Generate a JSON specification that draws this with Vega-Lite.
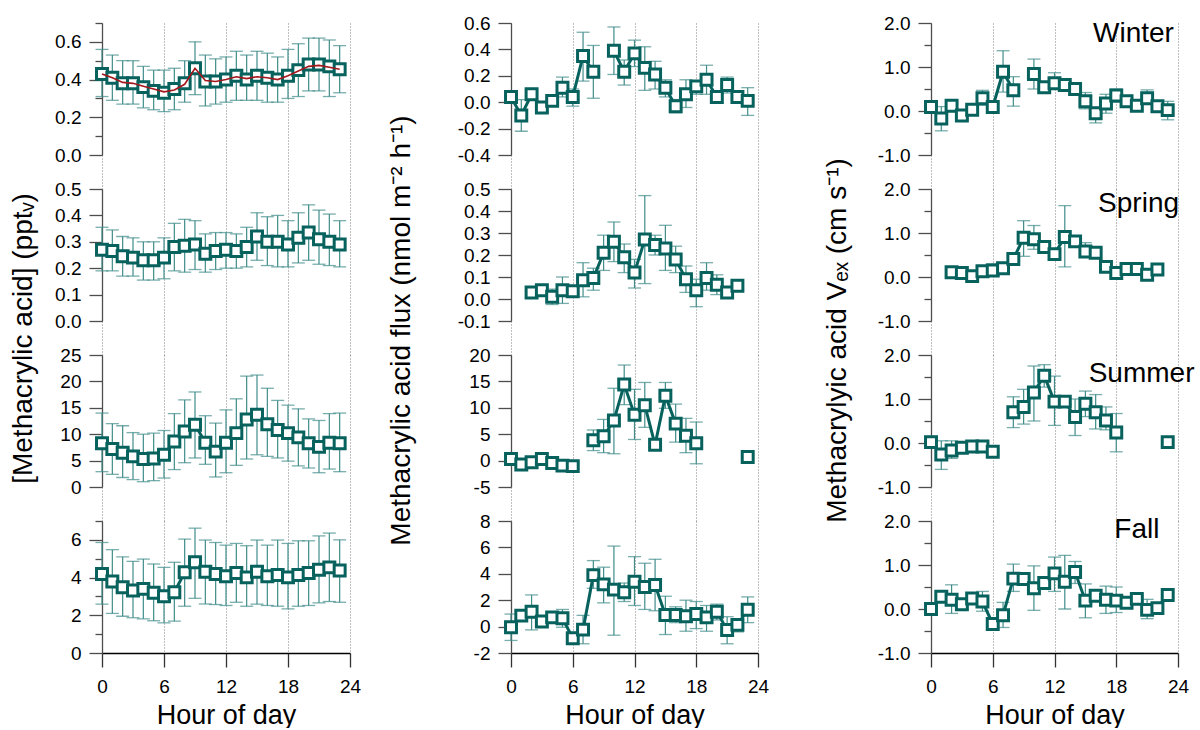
{
  "$schema": "https://vega.github.io/schema/vega-lite/v6.json",
  "padding": {"left": 9, "top": 14, "right": 4, "bottom": 0},
  "config": {
    "font": "Liberation Sans",
    "view": {"stroke": null},
    "axis": {"labelFontSize": 19, "titleFontSize": 27, "titleFontWeight": "normal", "labelColor": "#000", "titleColor": "#000"},
    "axisY": {"grid": false, "domainColor": "#4d4d4d", "domainWidth": 1.3, "tickColor": "#4d4d4d", "tickWidth": 1.3, "tickSize": 13, "labelPadding": 8, "titleFontSize": 28},
    "axisX": {"grid": true, "gridDash": [1, 2], "gridColor": "#808080", "gridWidth": 1, "domain": false, "labels": false, "labelFlush": false, "tickSize": 34, "tickDash": [1, 2], "tickColor": "#808080", "tickWidth": 1}
  },
  "datasets": {
    "one": [{"z": 0}],
    "L1": [
      {"h": 0, "m": 0.43, "lo": 0.31, "hi": 0.56, "fit": 0.43},
      {"h": 1, "m": 0.41, "lo": 0.29, "hi": 0.53, "fit": 0.41},
      {"h": 2, "m": 0.38, "lo": 0.27, "hi": 0.5, "fit": 0.385},
      {"h": 3, "m": 0.38, "lo": 0.27, "hi": 0.5, "fit": 0.38},
      {"h": 4, "m": 0.36, "lo": 0.25, "hi": 0.47, "fit": 0.365},
      {"h": 5, "m": 0.34, "lo": 0.24, "hi": 0.45, "fit": 0.35},
      {"h": 6, "m": 0.33, "lo": 0.23, "hi": 0.45, "fit": 0.335},
      {"h": 7, "m": 0.35, "lo": 0.24, "hi": 0.46, "fit": 0.345},
      {"h": 8, "m": 0.38, "lo": 0.28, "hi": 0.5, "fit": 0.375},
      {"h": 9, "m": 0.46, "lo": 0.32, "hi": 0.6, "fit": 0.46},
      {"h": 10, "m": 0.39, "lo": 0.26, "hi": 0.53, "fit": 0.395},
      {"h": 11, "m": 0.39, "lo": 0.27, "hi": 0.51, "fit": 0.39},
      {"h": 12, "m": 0.4, "lo": 0.28, "hi": 0.52, "fit": 0.4},
      {"h": 13, "m": 0.42, "lo": 0.29, "hi": 0.55, "fit": 0.415},
      {"h": 14, "m": 0.4, "lo": 0.29, "hi": 0.53, "fit": 0.405},
      {"h": 15, "m": 0.42, "lo": 0.29, "hi": 0.55, "fit": 0.415},
      {"h": 16, "m": 0.41, "lo": 0.28, "hi": 0.54, "fit": 0.41},
      {"h": 17, "m": 0.4, "lo": 0.28, "hi": 0.52, "fit": 0.4},
      {"h": 18, "m": 0.42, "lo": 0.3, "hi": 0.56, "fit": 0.42},
      {"h": 19, "m": 0.45, "lo": 0.31, "hi": 0.59, "fit": 0.445},
      {"h": 20, "m": 0.48, "lo": 0.34, "hi": 0.62, "fit": 0.47},
      {"h": 21, "m": 0.48, "lo": 0.34, "hi": 0.62, "fit": 0.475},
      {"h": 22, "m": 0.47, "lo": 0.31, "hi": 0.61, "fit": 0.465},
      {"h": 23, "m": 0.455, "lo": 0.33, "hi": 0.58, "fit": 0.455}
    ],
    "L2": [
      {"h": 0, "m": 0.27, "lo": 0.19, "hi": 0.355},
      {"h": 1, "m": 0.265, "lo": 0.19, "hi": 0.345},
      {"h": 2, "m": 0.245, "lo": 0.17, "hi": 0.32},
      {"h": 3, "m": 0.24, "lo": 0.17, "hi": 0.315},
      {"h": 4, "m": 0.23, "lo": 0.155, "hi": 0.3},
      {"h": 5, "m": 0.23, "lo": 0.155, "hi": 0.3},
      {"h": 6, "m": 0.24, "lo": 0.16, "hi": 0.315},
      {"h": 7, "m": 0.28, "lo": 0.19, "hi": 0.37},
      {"h": 8, "m": 0.285, "lo": 0.185, "hi": 0.385},
      {"h": 9, "m": 0.29, "lo": 0.195, "hi": 0.38},
      {"h": 10, "m": 0.255, "lo": 0.185, "hi": 0.33},
      {"h": 11, "m": 0.265, "lo": 0.195, "hi": 0.335},
      {"h": 12, "m": 0.27, "lo": 0.2, "hi": 0.335},
      {"h": 13, "m": 0.265, "lo": 0.2, "hi": 0.33},
      {"h": 14, "m": 0.28, "lo": 0.205, "hi": 0.355},
      {"h": 15, "m": 0.32, "lo": 0.23, "hi": 0.41},
      {"h": 16, "m": 0.3, "lo": 0.21, "hi": 0.395},
      {"h": 17, "m": 0.3, "lo": 0.205, "hi": 0.4},
      {"h": 18, "m": 0.29, "lo": 0.205, "hi": 0.38},
      {"h": 19, "m": 0.315, "lo": 0.22, "hi": 0.41},
      {"h": 20, "m": 0.335, "lo": 0.23, "hi": 0.44},
      {"h": 21, "m": 0.31, "lo": 0.215, "hi": 0.42},
      {"h": 22, "m": 0.3, "lo": 0.21, "hi": 0.405},
      {"h": 23, "m": 0.29, "lo": 0.205, "hi": 0.38}
    ],
    "L3": [
      {"h": 0, "m": 8.3, "lo": 2.9, "hi": 14.0},
      {"h": 1, "m": 7.2, "lo": 2.4, "hi": 12.0},
      {"h": 2, "m": 6.5, "lo": 1.8, "hi": 11.6},
      {"h": 3, "m": 5.8, "lo": 1.4, "hi": 10.3},
      {"h": 4, "m": 5.3, "lo": 1.0, "hi": 10.0},
      {"h": 5, "m": 5.4, "lo": 1.2, "hi": 10.2},
      {"h": 6, "m": 6.1, "lo": 1.7, "hi": 10.7},
      {"h": 7, "m": 8.6, "lo": 3.3, "hi": 13.9},
      {"h": 8, "m": 10.5, "lo": 4.6, "hi": 16.5},
      {"h": 9, "m": 11.8, "lo": 5.5, "hi": 18.0},
      {"h": 10, "m": 8.4, "lo": 4.3, "hi": 13.5},
      {"h": 11, "m": 6.7, "lo": 1.9, "hi": 12.1},
      {"h": 12, "m": 8.4, "lo": 2.7, "hi": 14.6},
      {"h": 13, "m": 10.2, "lo": 4.1, "hi": 16.7},
      {"h": 14, "m": 12.8, "lo": 5.3, "hi": 21.0},
      {"h": 15, "m": 13.7, "lo": 6.1, "hi": 21.2},
      {"h": 16, "m": 11.9, "lo": 5.8, "hi": 18.7},
      {"h": 17, "m": 10.8, "lo": 5.5, "hi": 16.4},
      {"h": 18, "m": 10.2, "lo": 4.9, "hi": 15.5},
      {"h": 19, "m": 9.4, "lo": 4.0, "hi": 14.8},
      {"h": 20, "m": 8.3, "lo": 3.6, "hi": 12.9},
      {"h": 21, "m": 7.6, "lo": 2.7, "hi": 12.6},
      {"h": 22, "m": 8.4, "lo": 3.4, "hi": 13.9},
      {"h": 23, "m": 8.3, "lo": 2.9, "hi": 14.0}
    ],
    "L4": [
      {"h": 0, "m": 4.19, "lo": 2.59, "hi": 5.86},
      {"h": 1, "m": 3.79, "lo": 2.1, "hi": 5.48},
      {"h": 2, "m": 3.49, "lo": 1.95, "hi": 5.1},
      {"h": 3, "m": 3.31, "lo": 1.87, "hi": 4.86},
      {"h": 4, "m": 3.4, "lo": 1.81, "hi": 4.98},
      {"h": 5, "m": 3.19, "lo": 1.71, "hi": 4.72},
      {"h": 6, "m": 3.01, "lo": 1.6, "hi": 4.54},
      {"h": 7, "m": 3.22, "lo": 1.69, "hi": 4.81},
      {"h": 8, "m": 4.28, "lo": 2.48, "hi": 6.04},
      {"h": 9, "m": 4.81, "lo": 2.9, "hi": 6.62},
      {"h": 10, "m": 4.31, "lo": 2.6, "hi": 5.99},
      {"h": 11, "m": 4.19, "lo": 2.57, "hi": 5.86},
      {"h": 12, "m": 4.07, "lo": 2.52, "hi": 5.72},
      {"h": 13, "m": 4.24, "lo": 2.69, "hi": 5.81},
      {"h": 14, "m": 4.01, "lo": 2.48, "hi": 5.69},
      {"h": 15, "m": 4.31, "lo": 2.59, "hi": 5.99},
      {"h": 16, "m": 4.07, "lo": 2.52, "hi": 5.72},
      {"h": 17, "m": 4.14, "lo": 2.48, "hi": 5.99},
      {"h": 18, "m": 4.01, "lo": 2.34, "hi": 5.81},
      {"h": 19, "m": 4.14, "lo": 2.48, "hi": 5.95},
      {"h": 20, "m": 4.24, "lo": 2.52, "hi": 5.95},
      {"h": 21, "m": 4.42, "lo": 2.66, "hi": 6.21},
      {"h": 22, "m": 4.54, "lo": 2.73, "hi": 6.36},
      {"h": 23, "m": 4.37, "lo": 2.69, "hi": 6.0}
    ],
    "M1": [
      {"h": 0, "m": 0.04, "lo": 0.01, "hi": 0.07},
      {"h": 1, "m": -0.1, "lo": -0.22, "hi": 0.02},
      {"h": 2, "m": 0.06, "lo": 0.03, "hi": 0.09},
      {"h": 3, "m": -0.04, "lo": -0.07, "hi": -0.01},
      {"h": 4, "m": 0.01, "lo": -0.02, "hi": 0.04},
      {"h": 5, "m": 0.11, "lo": 0.04, "hi": 0.19},
      {"h": 6, "m": 0.04, "lo": -0.03, "hi": 0.1},
      {"h": 7, "m": 0.35, "lo": 0.16, "hi": 0.53},
      {"h": 8, "m": 0.23, "lo": 0.03, "hi": 0.43},
      {"h": 9, "m": null, "lo": null, "hi": null},
      {"h": 10, "m": 0.39, "lo": 0.21, "hi": 0.57},
      {"h": 11, "m": 0.23, "lo": 0.13, "hi": 0.32},
      {"h": 12, "m": 0.37, "lo": 0.27, "hi": 0.47},
      {"h": 13, "m": 0.26, "lo": 0.09, "hi": 0.42},
      {"h": 14, "m": 0.21, "lo": 0.1, "hi": 0.31},
      {"h": 15, "m": 0.11, "lo": 0.04, "hi": 0.17},
      {"h": 16, "m": -0.03, "lo": -0.08, "hi": 0.02},
      {"h": 17, "m": 0.06, "lo": -0.04, "hi": 0.17},
      {"h": 18, "m": 0.12, "lo": 0.06, "hi": 0.16},
      {"h": 19, "m": 0.17, "lo": 0.06, "hi": 0.28},
      {"h": 20, "m": 0.04, "lo": 0.0, "hi": 0.08},
      {"h": 21, "m": 0.13, "lo": 0.07, "hi": 0.19},
      {"h": 22, "m": 0.04, "lo": 0.01, "hi": 0.07},
      {"h": 23, "m": 0.01, "lo": -0.1, "hi": 0.11}
    ],
    "M2": [
      {"h": 2, "m": 0.03, "lo": 0.01, "hi": 0.05},
      {"h": 3, "m": 0.04, "lo": 0.02, "hi": 0.06},
      {"h": 4, "m": 0.01, "lo": -0.025, "hi": 0.045},
      {"h": 5, "m": 0.04, "lo": -0.02, "hi": 0.1},
      {"h": 6, "m": 0.035, "lo": 0.015, "hi": 0.055},
      {"h": 7, "m": 0.085, "lo": 0.01, "hi": 0.165},
      {"h": 8, "m": 0.095, "lo": 0.04, "hi": 0.14},
      {"h": 9, "m": 0.21, "lo": 0.13, "hi": 0.29},
      {"h": 10, "m": 0.26, "lo": 0.17, "hi": 0.35},
      {"h": 11, "m": 0.19, "lo": 0.12, "hi": 0.25},
      {"h": 12, "m": 0.12, "lo": 0.05, "hi": 0.18},
      {"h": 13, "m": 0.27, "lo": 0.07, "hi": 0.47},
      {"h": 14, "m": 0.245, "lo": 0.2, "hi": 0.29},
      {"h": 15, "m": 0.23, "lo": 0.13, "hi": 0.335},
      {"h": 16, "m": 0.18, "lo": 0.12, "hi": 0.24},
      {"h": 17, "m": 0.09, "lo": 0.03, "hi": 0.15},
      {"h": 18, "m": 0.04, "lo": -0.035, "hi": 0.09},
      {"h": 19, "m": 0.095, "lo": 0.04, "hi": 0.165},
      {"h": 20, "m": 0.065, "lo": 0.02, "hi": 0.11},
      {"h": 21, "m": 0.03, "lo": 0.01, "hi": 0.05},
      {"h": 22, "m": 0.06, "lo": 0.04, "hi": 0.08}
    ],
    "M3": [
      {"h": 0, "m": 0.3, "lo": -0.2, "hi": 0.8},
      {"h": 1, "m": -0.75, "lo": -1.3, "hi": -0.2},
      {"h": 2, "m": -0.3, "lo": -0.8, "hi": 0.2},
      {"h": 3, "m": 0.3, "lo": -0.2, "hi": 0.8},
      {"h": 4, "m": -0.45, "lo": -0.9, "hi": 0.0},
      {"h": 5, "m": -0.95, "lo": -1.4, "hi": -0.5},
      {"h": 6, "m": -1.05, "lo": -1.5, "hi": -0.6},
      {"h": 7, "m": null, "lo": null, "hi": null},
      {"h": 8, "m": 3.85, "lo": 1.9, "hi": 5.8},
      {"h": 9, "m": 4.6, "lo": 1.5, "hi": 7.8},
      {"h": 10, "m": 7.6, "lo": 1.3, "hi": 13.7},
      {"h": 11, "m": 14.4, "lo": 10.6, "hi": 18.1},
      {"h": 12, "m": 8.7, "lo": 4.0, "hi": 13.5},
      {"h": 13, "m": 10.5, "lo": 6.3, "hi": 14.8},
      {"h": 14, "m": 3.0, "lo": 2.5, "hi": 3.5},
      {"h": 15, "m": 12.3, "lo": 9.9, "hi": 14.8},
      {"h": 16, "m": 7.0, "lo": 3.5, "hi": 10.7},
      {"h": 17, "m": 4.7, "lo": 1.5, "hi": 8.0},
      {"h": 18, "m": 3.3, "lo": -0.6, "hi": 7.3},
      {"h": 19, "m": null, "lo": null, "hi": null},
      {"h": 20, "m": null, "lo": null, "hi": null},
      {"h": 21, "m": null, "lo": null, "hi": null},
      {"h": 22, "m": null, "lo": null, "hi": null},
      {"h": 23, "m": 0.7, "lo": 0.3, "hi": 1.1}
    ],
    "M4": [
      {"h": 0, "m": -0.05, "lo": -1.05, "hi": 0.95},
      {"h": 1, "m": 0.83, "lo": 0.5, "hi": 1.15},
      {"h": 2, "m": 1.13, "lo": -0.25, "hi": 2.4},
      {"h": 3, "m": 0.38, "lo": 0.05, "hi": 0.7},
      {"h": 4, "m": 0.7, "lo": 0.3, "hi": 1.1},
      {"h": 5, "m": 0.63, "lo": -0.05, "hi": 1.3},
      {"h": 6, "m": -0.88, "lo": -1.3, "hi": -0.45},
      {"h": 7, "m": -0.23, "lo": -1.3, "hi": 0.85},
      {"h": 8, "m": 3.9, "lo": 2.9, "hi": 5.0},
      {"h": 9, "m": 3.2, "lo": 1.8, "hi": 4.5},
      {"h": 10, "m": 2.8, "lo": -0.65, "hi": 6.1},
      {"h": 11, "m": 2.6, "lo": 1.9, "hi": 3.3},
      {"h": 12, "m": 3.4, "lo": 1.6, "hi": 5.3},
      {"h": 13, "m": 3.0, "lo": 1.3, "hi": 4.8},
      {"h": 14, "m": 3.15, "lo": 1.2, "hi": 5.1},
      {"h": 15, "m": 0.88, "lo": -0.6, "hi": 2.3},
      {"h": 16, "m": 0.88, "lo": 0.3, "hi": 1.5},
      {"h": 17, "m": 0.78, "lo": -0.35, "hi": 2.0},
      {"h": 18, "m": 0.95, "lo": -0.15, "hi": 1.9},
      {"h": 19, "m": 0.7, "lo": -0.35, "hi": 1.6},
      {"h": 20, "m": 1.13, "lo": 0.5, "hi": 1.7},
      {"h": 21, "m": -0.25, "lo": -1.3, "hi": 0.75},
      {"h": 22, "m": 0.13, "lo": -0.4, "hi": 0.6},
      {"h": 23, "m": 1.28, "lo": 0.3, "hi": 2.25}
    ],
    "R1": [
      {"h": 0, "m": 0.09, "lo": 0.0, "hi": 0.17},
      {"h": 1, "m": -0.17, "lo": -0.45, "hi": 0.1},
      {"h": 2, "m": 0.12, "lo": 0.04, "hi": 0.2},
      {"h": 3, "m": -0.1, "lo": -0.18, "hi": -0.02},
      {"h": 4, "m": 0.03, "lo": -0.05, "hi": 0.11},
      {"h": 5, "m": 0.29, "lo": 0.13, "hi": 0.47},
      {"h": 6, "m": 0.09, "lo": 0.0, "hi": 0.17},
      {"h": 7, "m": 0.89, "lo": 0.43, "hi": 1.37},
      {"h": 8, "m": 0.47, "lo": 0.11, "hi": 0.78},
      {"h": 9, "m": null, "lo": null, "hi": null},
      {"h": 10, "m": 0.84, "lo": 0.5, "hi": 1.18},
      {"h": 11, "m": 0.54, "lo": 0.44, "hi": 0.64},
      {"h": 12, "m": 0.63, "lo": 0.5, "hi": 0.87},
      {"h": 13, "m": 0.59, "lo": 0.5, "hi": 0.68},
      {"h": 14, "m": 0.5, "lo": 0.4, "hi": 0.6},
      {"h": 15, "m": 0.22, "lo": 0.05, "hi": 0.42},
      {"h": 16, "m": -0.05, "lo": -0.27, "hi": 0.08},
      {"h": 17, "m": 0.17, "lo": -0.05, "hi": 0.38},
      {"h": 18, "m": 0.35, "lo": 0.2, "hi": 0.5},
      {"h": 19, "m": 0.22, "lo": 0.14, "hi": 0.3},
      {"h": 20, "m": 0.12, "lo": 0.04, "hi": 0.2},
      {"h": 21, "m": 0.29, "lo": 0.15, "hi": 0.48},
      {"h": 22, "m": 0.11, "lo": 0.03, "hi": 0.19},
      {"h": 23, "m": 0.02, "lo": -0.2, "hi": 0.22}
    ],
    "R2": [
      {"h": 2, "m": 0.11, "lo": 0.06, "hi": 0.16},
      {"h": 3, "m": 0.09, "lo": 0.04, "hi": 0.14},
      {"h": 4, "m": 0.02, "lo": -0.03, "hi": 0.07},
      {"h": 5, "m": 0.13, "lo": 0.08, "hi": 0.18},
      {"h": 6, "m": 0.15, "lo": 0.05, "hi": 0.3},
      {"h": 7, "m": 0.2, "lo": 0.1, "hi": 0.3},
      {"h": 8, "m": 0.41, "lo": 0.3, "hi": 0.5},
      {"h": 9, "m": 0.89, "lo": 0.47, "hi": 1.28},
      {"h": 10, "m": 0.86, "lo": 0.63, "hi": 1.17},
      {"h": 11, "m": 0.68, "lo": 0.58, "hi": 0.78},
      {"h": 12, "m": 0.52, "lo": 0.42, "hi": 0.62},
      {"h": 13, "m": 0.91, "lo": 0.23, "hi": 1.62},
      {"h": 14, "m": 0.81, "lo": 0.71, "hi": 0.91},
      {"h": 15, "m": 0.58, "lo": 0.45, "hi": 0.78},
      {"h": 16, "m": 0.55, "lo": 0.45, "hi": 0.65},
      {"h": 17, "m": 0.23, "lo": 0.15, "hi": 0.31},
      {"h": 18, "m": 0.09, "lo": 0.02, "hi": 0.16},
      {"h": 19, "m": 0.18, "lo": 0.1, "hi": 0.26},
      {"h": 20, "m": 0.18, "lo": 0.1, "hi": 0.26},
      {"h": 21, "m": 0.05, "lo": 0.0, "hi": 0.1},
      {"h": 22, "m": 0.17, "lo": 0.1, "hi": 0.24}
    ],
    "R3": [
      {"h": 0, "m": 0.02, "lo": -0.1, "hi": 0.15},
      {"h": 1, "m": -0.26, "lo": -0.6, "hi": 0.05},
      {"h": 2, "m": -0.17, "lo": -0.35, "hi": 0.05},
      {"h": 3, "m": -0.11, "lo": -0.22, "hi": 0.0},
      {"h": 4, "m": -0.08, "lo": -0.18, "hi": 0.05},
      {"h": 5, "m": -0.08, "lo": -0.18, "hi": 0.05},
      {"h": 6, "m": -0.2, "lo": -0.28, "hi": -0.12},
      {"h": 7, "m": null, "lo": null, "hi": null},
      {"h": 8, "m": 0.7, "lo": 0.35, "hi": 1.05},
      {"h": 9, "m": 0.82, "lo": 0.43, "hi": 1.22},
      {"h": 10, "m": 1.15, "lo": 0.5, "hi": 1.75},
      {"h": 11, "m": 1.53, "lo": 1.27, "hi": 1.78},
      {"h": 12, "m": 0.94, "lo": 0.4, "hi": 1.52},
      {"h": 13, "m": 0.94, "lo": 0.88, "hi": 1.0},
      {"h": 14, "m": 0.59, "lo": 0.17, "hi": 1.0},
      {"h": 15, "m": 0.89, "lo": 0.6, "hi": 1.18},
      {"h": 16, "m": 0.7, "lo": 0.32, "hi": 1.1},
      {"h": 17, "m": 0.51, "lo": 0.3, "hi": 0.82},
      {"h": 18, "m": 0.24, "lo": -0.2, "hi": 0.67},
      {"h": 19, "m": null, "lo": null, "hi": null},
      {"h": 20, "m": null, "lo": null, "hi": null},
      {"h": 21, "m": null, "lo": null, "hi": null},
      {"h": 22, "m": null, "lo": null, "hi": null},
      {"h": 23, "m": 0.02, "lo": -0.03, "hi": 0.07}
    ],
    "R4": [
      {"h": 0, "m": 0.0, "lo": -0.05, "hi": 0.05},
      {"h": 1, "m": 0.28, "lo": 0.21, "hi": 0.35},
      {"h": 2, "m": 0.21, "lo": -0.1, "hi": 0.55},
      {"h": 3, "m": 0.11, "lo": 0.06, "hi": 0.16},
      {"h": 4, "m": 0.24, "lo": 0.12, "hi": 0.35},
      {"h": 5, "m": 0.17, "lo": -0.05, "hi": 0.4},
      {"h": 6, "m": -0.34, "lo": -0.41, "hi": -0.27},
      {"h": 7, "m": -0.14, "lo": -0.42, "hi": 0.15},
      {"h": 8, "m": 0.69, "lo": 0.4, "hi": 1.02},
      {"h": 9, "m": 0.68, "lo": 0.58, "hi": 0.78},
      {"h": 10, "m": 0.47, "lo": -0.03, "hi": 0.98},
      {"h": 11, "m": 0.59, "lo": 0.52, "hi": 0.66},
      {"h": 12, "m": 0.81, "lo": 0.4, "hi": 1.18},
      {"h": 13, "m": 0.62, "lo": 0.0, "hi": 1.22},
      {"h": 14, "m": 0.84, "lo": 0.58, "hi": 1.08},
      {"h": 15, "m": 0.19, "lo": -0.2, "hi": 0.57},
      {"h": 16, "m": 0.3, "lo": 0.23, "hi": 0.37},
      {"h": 17, "m": 0.21, "lo": -0.1, "hi": 0.52},
      {"h": 18, "m": 0.19, "lo": -0.08, "hi": 0.5},
      {"h": 19, "m": 0.14, "lo": 0.09, "hi": 0.19},
      {"h": 20, "m": 0.23, "lo": 0.18, "hi": 0.28},
      {"h": 21, "m": -0.02, "lo": -0.22, "hi": 0.22},
      {"h": 22, "m": 0.02, "lo": -0.03, "hi": 0.07},
      {"h": 23, "m": 0.32, "lo": 0.27, "hi": 0.37}
    ]
  },
  "bounds": "flush",
  "spacing": 409,
  "hconcat": [
    {
      "bounds": "flush",
      "spacing": 34,
      "vconcat": [
        {
          "width": 248, "height": 132, "data": {"name": "L1"},
          "encoding": {
            "x": {"field": "h", "type": "quantitative", "title": null, "scale": {"domain": [0, 24], "nice": false, "zero": false}, "axis": {"values": [0, 6, 12, 18, 24]}},
            "y": {"field": "m", "type": "quantitative", "title": null, "scale": {"domain": [0, 0.7], "nice": false, "zero": false},
                  "axis": {"values": [0, 0.1, 0.2, 0.3, 0.4, 0.5, 0.6, 0.7], "labelExpr": "abs(datum.value*5-round(datum.value*5))<0.001 ? format(datum.value,'.1f') : ''", "tickSize": {"condition": {"test": "abs(datum.value*5-round(datum.value*5))<0.001", "value": 13}, "value": 7}}}
          },
          "layer": [
            {"data": {"name": "one"}, "mark": {"type": "rule", "color": "#2b2b2b", "strokeDash": [1, 2], "strokeWidth": 1}, "encoding": {"x": {"datum": 0}, "x2": {"datum": 24}, "y": {"datum": 0}}},
            {"mark": {"type": "rule", "color": "#3f8c89", "strokeWidth": 1.2}, "encoding": {"y": {"field": "lo", "type": "quantitative"}, "y2": {"field": "hi"}}},
            {"mark": {"type": "tick", "orient": "horizontal", "color": "#3f8c89", "size": 13, "thickness": 1.3}, "encoding": {"y": {"field": "lo", "type": "quantitative"}}},
            {"mark": {"type": "tick", "orient": "horizontal", "color": "#3f8c89", "size": 13, "thickness": 1.3}, "encoding": {"y": {"field": "hi", "type": "quantitative"}}},
            {"mark": {"type": "line", "color": "#07625e", "strokeWidth": 3, "invalid": "break-paths-show-domains"}, "encoding": {}},
            {"mark": {"type": "point", "shape": "square", "filled": true, "color": "white", "stroke": "#07625e", "strokeWidth": 3, "size": 120, "opacity": 1}},
            {"mark": {"type": "line", "color": "#a3161c", "strokeWidth": 1.6}, "encoding": {"y": {"field": "fit", "type": "quantitative"}}}
          ]
        },
        {
          "width": 248, "height": 132, "data": {"name": "L2"},
          "encoding": {
            "x": {"field": "h", "type": "quantitative", "title": null, "scale": {"domain": [0, 24], "nice": false, "zero": false}, "axis": {"values": [0, 6, 12, 18, 24]}},
            "y": {"field": "m", "type": "quantitative", "title": "[Methacrylic acid] (pptᵥ)", "scale": {"domain": [0, 0.5], "nice": false, "zero": false},
                  "axis": {"values": [0, 0.1, 0.2, 0.3, 0.4, 0.5], "format": ".1f", "titleY": 149, "titlePadding": 17}}
          },
          "layer": [
            {"data": {"name": "one"}, "mark": {"type": "rule", "color": "#2b2b2b", "strokeDash": [1, 2], "strokeWidth": 1}, "encoding": {"x": {"datum": 0}, "x2": {"datum": 24}, "y": {"datum": 0}}},
            {"mark": {"type": "rule", "color": "#3f8c89", "strokeWidth": 1.2}, "encoding": {"y": {"field": "lo", "type": "quantitative"}, "y2": {"field": "hi"}}},
            {"mark": {"type": "tick", "orient": "horizontal", "color": "#3f8c89", "size": 13, "thickness": 1.3}, "encoding": {"y": {"field": "lo", "type": "quantitative"}}},
            {"mark": {"type": "tick", "orient": "horizontal", "color": "#3f8c89", "size": 13, "thickness": 1.3}, "encoding": {"y": {"field": "hi", "type": "quantitative"}}},
            {"mark": {"type": "line", "color": "#07625e", "strokeWidth": 3, "invalid": "break-paths-show-domains"}, "encoding": {}},
            {"mark": {"type": "point", "shape": "square", "filled": true, "color": "white", "stroke": "#07625e", "strokeWidth": 3, "size": 120, "opacity": 1}}
          ]
        },
        {
          "width": 248, "height": 132, "data": {"name": "L3"},
          "encoding": {
            "x": {"field": "h", "type": "quantitative", "title": null, "scale": {"domain": [0, 24], "nice": false, "zero": false}, "axis": {"values": [0, 6, 12, 18, 24]}},
            "y": {"field": "m", "type": "quantitative", "title": null, "scale": {"domain": [0, 25], "nice": false, "zero": false},
                  "axis": {"values": [0, 5, 10, 15, 20, 25], "format": "d"}}
          },
          "layer": [
            {"data": {"name": "one"}, "mark": {"type": "rule", "color": "#2b2b2b", "strokeDash": [1, 2], "strokeWidth": 1}, "encoding": {"x": {"datum": 0}, "x2": {"datum": 24}, "y": {"datum": 0}}},
            {"mark": {"type": "rule", "color": "#3f8c89", "strokeWidth": 1.2}, "encoding": {"y": {"field": "lo", "type": "quantitative"}, "y2": {"field": "hi"}}},
            {"mark": {"type": "tick", "orient": "horizontal", "color": "#3f8c89", "size": 13, "thickness": 1.3}, "encoding": {"y": {"field": "lo", "type": "quantitative"}}},
            {"mark": {"type": "tick", "orient": "horizontal", "color": "#3f8c89", "size": 13, "thickness": 1.3}, "encoding": {"y": {"field": "hi", "type": "quantitative"}}},
            {"mark": {"type": "line", "color": "#07625e", "strokeWidth": 3, "invalid": "break-paths-show-domains"}, "encoding": {}},
            {"mark": {"type": "point", "shape": "square", "filled": true, "color": "white", "stroke": "#07625e", "strokeWidth": 3, "size": 120, "opacity": 1}}
          ]
        },
        {
          "width": 248, "height": 132, "data": {"name": "L4"},
          "encoding": {
            "x": {"field": "h", "type": "quantitative", "scale": {"domain": [0, 24], "nice": false, "zero": false},
                  "axis": {"values": [0, 6, 12, 18, 24], "title": "Hour of day", "domain": true, "domainColor": "#000", "domainWidth": 1.3, "labels": true, "labelFlush": false, "labelPadding": 10, "titlePadding": 6, "tickSize": 14, "tickDash": [], "tickColor": "#333", "tickWidth": 1.3}},
            "y": {"field": "m", "type": "quantitative", "title": null, "scale": {"domain": [0, 7], "nice": false, "zero": false},
                  "axis": {"values": [0, 1, 2, 3, 4, 5, 6, 7], "labelExpr": "datum.value%2==0 ? format(datum.value,'d') : ''", "tickSize": {"condition": {"test": "datum.value%2==0", "value": 13}, "value": 7}}}
          },
          "layer": [
            {"mark": {"type": "rule", "color": "#3f8c89", "strokeWidth": 1.2}, "encoding": {"y": {"field": "lo", "type": "quantitative"}, "y2": {"field": "hi"}}},
            {"mark": {"type": "tick", "orient": "horizontal", "color": "#3f8c89", "size": 13, "thickness": 1.3}, "encoding": {"y": {"field": "lo", "type": "quantitative"}}},
            {"mark": {"type": "tick", "orient": "horizontal", "color": "#3f8c89", "size": 13, "thickness": 1.3}, "encoding": {"y": {"field": "hi", "type": "quantitative"}}},
            {"mark": {"type": "line", "color": "#07625e", "strokeWidth": 3, "invalid": "break-paths-show-domains"}, "encoding": {}},
            {"mark": {"type": "point", "shape": "square", "filled": true, "color": "white", "stroke": "#07625e", "strokeWidth": 3, "size": 120, "opacity": 1}}
          ]
        }
      ]
    },
    {
      "bounds": "flush",
      "spacing": 420,
      "hconcat": [
        {
          "bounds": "flush",
          "spacing": 34,
          "vconcat": [
            {
              "width": 247, "height": 132, "data": {"name": "M1"},
              "encoding": {
                "x": {"field": "h", "type": "quantitative", "title": null, "scale": {"domain": [0, 24], "nice": false, "zero": false}, "axis": {"values": [0, 6, 12, 18, 24]}},
                "y": {"field": "m", "type": "quantitative", "title": null, "scale": {"domain": [-0.4, 0.6], "nice": false, "zero": false},
                      "axis": {"values": [-0.4, -0.2, 0, 0.2, 0.4, 0.6], "labelExpr": "replace(format(datum.value,'.1f'),'\u2212','-')"}}
              },
              "layer": [
                {"data": {"name": "one"}, "mark": {"type": "rule", "color": "#2b2b2b", "strokeDash": [1, 2], "strokeWidth": 1}, "encoding": {"x": {"datum": 0}, "x2": {"datum": 24}, "y": {"datum": 0}}},
                {"mark": {"type": "rule", "color": "#3f8c89", "strokeWidth": 1.2}, "encoding": {"y": {"field": "lo", "type": "quantitative"}, "y2": {"field": "hi"}}},
                {"mark": {"type": "tick", "orient": "horizontal", "color": "#3f8c89", "size": 13, "thickness": 1.3}, "encoding": {"y": {"field": "lo", "type": "quantitative"}}},
                {"mark": {"type": "tick", "orient": "horizontal", "color": "#3f8c89", "size": 13, "thickness": 1.3}, "encoding": {"y": {"field": "hi", "type": "quantitative"}}},
                {"mark": {"type": "line", "color": "#07625e", "strokeWidth": 3, "invalid": "break-paths-show-domains"}, "encoding": {}},
                {"mark": {"type": "point", "shape": "square", "filled": true, "color": "white", "stroke": "#07625e", "strokeWidth": 3, "size": 120, "opacity": 1}}
              ]
            },
            {
              "width": 247, "height": 132, "data": {"name": "M2"},
              "encoding": {
                "x": {"field": "h", "type": "quantitative", "title": null, "scale": {"domain": [0, 24], "nice": false, "zero": false}, "axis": {"values": [0, 6, 12, 18, 24]}},
                "y": {"field": "m", "type": "quantitative", "title": "Methacrylic acid flux (nmol m⁻² h⁻¹)", "scale": {"domain": [-0.1, 0.5], "nice": false, "zero": false},
                      "axis": {"values": [-0.1, 0, 0.1, 0.2, 0.3, 0.4, 0.5], "labelExpr": "replace(format(datum.value,'.1f'),'\u2212','-')", "titleY": 141, "titlePadding": 42}}
              },
              "layer": [
                {"data": {"name": "one"}, "mark": {"type": "rule", "color": "#2b2b2b", "strokeDash": [1, 2], "strokeWidth": 1}, "encoding": {"x": {"datum": 0}, "x2": {"datum": 24}, "y": {"datum": 0}}},
                {"mark": {"type": "rule", "color": "#3f8c89", "strokeWidth": 1.2}, "encoding": {"y": {"field": "lo", "type": "quantitative"}, "y2": {"field": "hi"}}},
                {"mark": {"type": "tick", "orient": "horizontal", "color": "#3f8c89", "size": 13, "thickness": 1.3}, "encoding": {"y": {"field": "lo", "type": "quantitative"}}},
                {"mark": {"type": "tick", "orient": "horizontal", "color": "#3f8c89", "size": 13, "thickness": 1.3}, "encoding": {"y": {"field": "hi", "type": "quantitative"}}},
                {"mark": {"type": "line", "color": "#07625e", "strokeWidth": 3, "invalid": "break-paths-show-domains"}, "encoding": {}},
                {"mark": {"type": "point", "shape": "square", "filled": true, "color": "white", "stroke": "#07625e", "strokeWidth": 3, "size": 120, "opacity": 1}}
              ]
            },
            {
              "width": 247, "height": 132, "data": {"name": "M3"},
              "encoding": {
                "x": {"field": "h", "type": "quantitative", "title": null, "scale": {"domain": [0, 24], "nice": false, "zero": false}, "axis": {"values": [0, 6, 12, 18, 24]}},
                "y": {"field": "m", "type": "quantitative", "title": null, "scale": {"domain": [-5, 20], "nice": false, "zero": false},
                      "axis": {"values": [-5, 0, 5, 10, 15, 20], "labelExpr": "replace(format(datum.value,'d'),'\u2212','-')"}}
              },
              "layer": [
                {"data": {"name": "one"}, "mark": {"type": "rule", "color": "#2b2b2b", "strokeDash": [1, 2], "strokeWidth": 1}, "encoding": {"x": {"datum": 0}, "x2": {"datum": 24}, "y": {"datum": 0}}},
                {"mark": {"type": "rule", "color": "#3f8c89", "strokeWidth": 1.2}, "encoding": {"y": {"field": "lo", "type": "quantitative"}, "y2": {"field": "hi"}}},
                {"mark": {"type": "tick", "orient": "horizontal", "color": "#3f8c89", "size": 13, "thickness": 1.3}, "encoding": {"y": {"field": "lo", "type": "quantitative"}}},
                {"mark": {"type": "tick", "orient": "horizontal", "color": "#3f8c89", "size": 13, "thickness": 1.3}, "encoding": {"y": {"field": "hi", "type": "quantitative"}}},
                {"mark": {"type": "line", "color": "#07625e", "strokeWidth": 3, "invalid": "break-paths-show-domains"}, "encoding": {}},
                {"mark": {"type": "point", "shape": "square", "filled": true, "color": "white", "stroke": "#07625e", "strokeWidth": 3, "size": 120, "opacity": 1}}
              ]
            },
            {
              "width": 247, "height": 132, "data": {"name": "M4"},
              "encoding": {
                "x": {"field": "h", "type": "quantitative", "scale": {"domain": [0, 24], "nice": false, "zero": false},
                      "axis": {"values": [0, 6, 12, 18, 24], "title": "Hour of day", "domain": true, "domainColor": "#000", "domainWidth": 1.3, "labels": true, "labelFlush": false, "labelPadding": 10, "titlePadding": 6, "tickSize": 14, "tickDash": [], "tickColor": "#333", "tickWidth": 1.3}},
                "y": {"field": "m", "type": "quantitative", "title": null, "scale": {"domain": [-2, 8], "nice": false, "zero": false},
                      "axis": {"values": [-2, 0, 2, 4, 6, 8], "labelExpr": "replace(format(datum.value,'d'),'\u2212','-')"}}
              },
              "layer": [
                {"data": {"name": "one"}, "mark": {"type": "rule", "color": "#2b2b2b", "strokeDash": [1, 2], "strokeWidth": 1}, "encoding": {"x": {"datum": 0}, "x2": {"datum": 24}, "y": {"datum": 0}}},
                {"mark": {"type": "rule", "color": "#3f8c89", "strokeWidth": 1.2}, "encoding": {"y": {"field": "lo", "type": "quantitative"}, "y2": {"field": "hi"}}},
                {"mark": {"type": "tick", "orient": "horizontal", "color": "#3f8c89", "size": 13, "thickness": 1.3}, "encoding": {"y": {"field": "lo", "type": "quantitative"}}},
                {"mark": {"type": "tick", "orient": "horizontal", "color": "#3f8c89", "size": 13, "thickness": 1.3}, "encoding": {"y": {"field": "hi", "type": "quantitative"}}},
                {"mark": {"type": "line", "color": "#07625e", "strokeWidth": 3, "invalid": "break-paths-show-domains"}, "encoding": {}},
                {"mark": {"type": "point", "shape": "square", "filled": true, "color": "white", "stroke": "#07625e", "strokeWidth": 3, "size": 120, "opacity": 1}}
              ]
            }
          ]
        },
        {
          "bounds": "flush",
          "spacing": 34,
          "vconcat": [
            {
              "width": 247, "height": 132, "data": {"name": "R1"},
              "encoding": {
                "x": {"field": "h", "type": "quantitative", "title": null, "scale": {"domain": [0, 24], "nice": false, "zero": false}, "axis": {"values": [0, 6, 12, 18, 24]}},
                "y": {"field": "m", "type": "quantitative", "title": null, "scale": {"domain": [-1, 2], "nice": false, "zero": false},
                      "axis": {"values": [-1, -0.5, 0, 0.5, 1, 1.5, 2], "labelExpr": "abs(datum.value-round(datum.value))<0.001 ? replace(format(datum.value,'.1f'),'\u2212','-') : ''", "tickSize": {"condition": {"test": "abs(datum.value-round(datum.value))<0.001", "value": 13}, "value": 7}}}
              },
              "layer": [
                {"data": {"name": "one"}, "mark": {"type": "rule", "color": "#2b2b2b", "strokeDash": [1, 2], "strokeWidth": 1}, "encoding": {"x": {"datum": 0}, "x2": {"datum": 24}, "y": {"datum": 0}}},
                {"mark": {"type": "rule", "color": "#3f8c89", "strokeWidth": 1.2}, "encoding": {"y": {"field": "lo", "type": "quantitative"}, "y2": {"field": "hi"}}},
                {"mark": {"type": "tick", "orient": "horizontal", "color": "#3f8c89", "size": 13, "thickness": 1.3}, "encoding": {"y": {"field": "lo", "type": "quantitative"}}},
                {"mark": {"type": "tick", "orient": "horizontal", "color": "#3f8c89", "size": 13, "thickness": 1.3}, "encoding": {"y": {"field": "hi", "type": "quantitative"}}},
                {"mark": {"type": "line", "color": "#07625e", "strokeWidth": 3, "invalid": "break-paths-show-domains"}, "encoding": {}},
                {"mark": {"type": "point", "shape": "square", "filled": true, "color": "white", "stroke": "#07625e", "strokeWidth": 3, "size": 120, "opacity": 1}},
                {"transform": [{"filter": "datum.h == 0"}], "mark": {"type": "text", "text": "Winter", "fontSize": 28, "align": "right", "baseline": "alphabetic", "color": "#000"}, "encoding": {"x": {"datum": 23.6}, "y": {"datum": 1.57}}}
              ]
            },
            {
              "width": 247, "height": 132, "data": {"name": "R2"},
              "encoding": {
                "x": {"field": "h", "type": "quantitative", "title": null, "scale": {"domain": [0, 24], "nice": false, "zero": false}, "axis": {"values": [0, 6, 12, 18, 24]}},
                "y": {"field": "m", "type": "quantitative", "title": "Methacrylyic acid Vₑₓ (cm s⁻¹)", "scale": {"domain": [-1, 2], "nice": false, "zero": false},
                      "axis": {"values": [-1, -0.5, 0, 0.5, 1, 1.5, 2], "labelExpr": "abs(datum.value-round(datum.value))<0.001 ? replace(format(datum.value,'.1f'),'\u2212','-') : ''", "tickSize": {"condition": {"test": "abs(datum.value-round(datum.value))<0.001", "value": 13}, "value": 7}, "titleY": 151, "titlePadding": 26}}
              },
              "layer": [
                {"data": {"name": "one"}, "mark": {"type": "rule", "color": "#2b2b2b", "strokeDash": [1, 2], "strokeWidth": 1}, "encoding": {"x": {"datum": 0}, "x2": {"datum": 24}, "y": {"datum": 0}}},
                {"mark": {"type": "rule", "color": "#3f8c89", "strokeWidth": 1.2}, "encoding": {"y": {"field": "lo", "type": "quantitative"}, "y2": {"field": "hi"}}},
                {"mark": {"type": "tick", "orient": "horizontal", "color": "#3f8c89", "size": 13, "thickness": 1.3}, "encoding": {"y": {"field": "lo", "type": "quantitative"}}},
                {"mark": {"type": "tick", "orient": "horizontal", "color": "#3f8c89", "size": 13, "thickness": 1.3}, "encoding": {"y": {"field": "hi", "type": "quantitative"}}},
                {"mark": {"type": "line", "color": "#07625e", "strokeWidth": 3, "invalid": "break-paths-show-domains"}, "encoding": {}},
                {"mark": {"type": "point", "shape": "square", "filled": true, "color": "white", "stroke": "#07625e", "strokeWidth": 3, "size": 120, "opacity": 1}},
                {"transform": [{"filter": "datum.h == 2"}], "mark": {"type": "text", "text": "Spring", "fontSize": 28, "align": "right", "baseline": "alphabetic", "color": "#000"}, "encoding": {"x": {"datum": 24.1}, "y": {"datum": 1.48}}}
              ]
            },
            {
              "width": 247, "height": 132, "data": {"name": "R3"},
              "encoding": {
                "x": {"field": "h", "type": "quantitative", "title": null, "scale": {"domain": [0, 24], "nice": false, "zero": false}, "axis": {"values": [0, 6, 12, 18, 24]}},
                "y": {"field": "m", "type": "quantitative", "title": null, "scale": {"domain": [-1, 2], "nice": false, "zero": false},
                      "axis": {"values": [-1, -0.5, 0, 0.5, 1, 1.5, 2], "labelExpr": "abs(datum.value-round(datum.value))<0.001 ? replace(format(datum.value,'.1f'),'\u2212','-') : ''", "tickSize": {"condition": {"test": "abs(datum.value-round(datum.value))<0.001", "value": 13}, "value": 7}}}
              },
              "layer": [
                {"data": {"name": "one"}, "mark": {"type": "rule", "color": "#2b2b2b", "strokeDash": [1, 2], "strokeWidth": 1}, "encoding": {"x": {"datum": 0}, "x2": {"datum": 24}, "y": {"datum": 0}}},
                {"mark": {"type": "rule", "color": "#3f8c89", "strokeWidth": 1.2}, "encoding": {"y": {"field": "lo", "type": "quantitative"}, "y2": {"field": "hi"}}},
                {"mark": {"type": "tick", "orient": "horizontal", "color": "#3f8c89", "size": 13, "thickness": 1.3}, "encoding": {"y": {"field": "lo", "type": "quantitative"}}},
                {"mark": {"type": "tick", "orient": "horizontal", "color": "#3f8c89", "size": 13, "thickness": 1.3}, "encoding": {"y": {"field": "hi", "type": "quantitative"}}},
                {"mark": {"type": "line", "color": "#07625e", "strokeWidth": 3, "invalid": "break-paths-show-domains"}, "encoding": {}},
                {"mark": {"type": "point", "shape": "square", "filled": true, "color": "white", "stroke": "#07625e", "strokeWidth": 3, "size": 120, "opacity": 1}},
                {"transform": [{"filter": "datum.h == 0"}], "mark": {"type": "text", "text": "Summer", "fontSize": 28, "align": "right", "baseline": "alphabetic", "color": "#000"}, "encoding": {"x": {"datum": 25.6}, "y": {"datum": 1.39}}}
              ]
            },
            {
              "width": 247, "height": 132, "data": {"name": "R4"},
              "encoding": {
                "x": {"field": "h", "type": "quantitative", "scale": {"domain": [0, 24], "nice": false, "zero": false},
                      "axis": {"values": [0, 6, 12, 18, 24], "title": "Hour of day", "domain": true, "domainColor": "#000", "domainWidth": 1.3, "labels": true, "labelFlush": false, "labelPadding": 10, "titlePadding": 6, "tickSize": 14, "tickDash": [], "tickColor": "#333", "tickWidth": 1.3}},
                "y": {"field": "m", "type": "quantitative", "title": null, "scale": {"domain": [-1, 2], "nice": false, "zero": false},
                      "axis": {"values": [-1, -0.5, 0, 0.5, 1, 1.5, 2], "labelExpr": "abs(datum.value-round(datum.value))<0.001 ? replace(format(datum.value,'.1f'),'\u2212','-') : ''", "tickSize": {"condition": {"test": "abs(datum.value-round(datum.value))<0.001", "value": 13}, "value": 7}}}
              },
              "layer": [
                {"data": {"name": "one"}, "mark": {"type": "rule", "color": "#2b2b2b", "strokeDash": [1, 2], "strokeWidth": 1}, "encoding": {"x": {"datum": 0}, "x2": {"datum": 24}, "y": {"datum": 0}}},
                {"mark": {"type": "rule", "color": "#3f8c89", "strokeWidth": 1.2}, "encoding": {"y": {"field": "lo", "type": "quantitative"}, "y2": {"field": "hi"}}},
                {"mark": {"type": "tick", "orient": "horizontal", "color": "#3f8c89", "size": 13, "thickness": 1.3}, "encoding": {"y": {"field": "lo", "type": "quantitative"}}},
                {"mark": {"type": "tick", "orient": "horizontal", "color": "#3f8c89", "size": 13, "thickness": 1.3}, "encoding": {"y": {"field": "hi", "type": "quantitative"}}},
                {"mark": {"type": "line", "color": "#07625e", "strokeWidth": 3, "invalid": "break-paths-show-domains"}, "encoding": {}},
                {"mark": {"type": "point", "shape": "square", "filled": true, "color": "white", "stroke": "#07625e", "strokeWidth": 3, "size": 120, "opacity": 1}},
                {"transform": [{"filter": "datum.h == 0"}], "mark": {"type": "text", "text": "Fall", "fontSize": 28, "align": "right", "baseline": "alphabetic", "color": "#000"}, "encoding": {"x": {"datum": 22.2}, "y": {"datum": 1.61}}}
              ]
            }
          ]
        }
      ]
    }
  ]
}
